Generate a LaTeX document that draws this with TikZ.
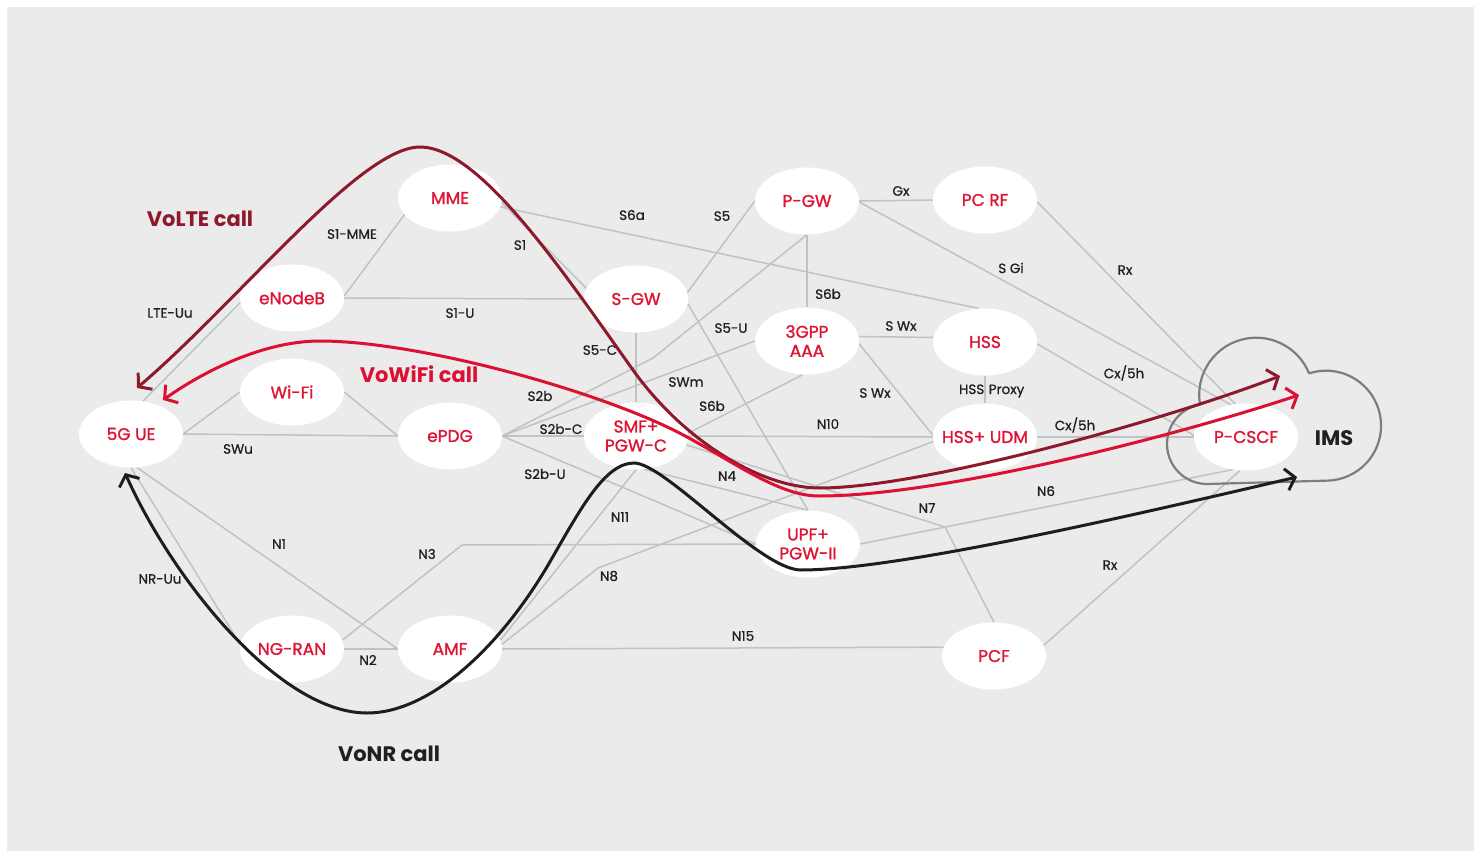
\documentclass[tikz,border=0pt]{standalone}
\usepackage{fontspec}
\setmainfont{Poppins}
\newfontfamily\nfmedium{Poppins}[FakeBold=1.3]
\newfontfamily\lblmedium{Poppins}[FakeBold=0.9]
\usetikzlibrary{shapes.geometric,arrows.meta,calc}
\pgfdeclarelayer{bg}
\pgfdeclarelayer{links}
\pgfsetlayers{bg,links,main}

\definecolor{canvas}{RGB}{235,235,235}
\definecolor{linkgray}{RGB}{188,196,196}
\definecolor{nfred}{RGB}{222,20,52}
\definecolor{voltecol}{RGB}{142,25,45}
\definecolor{vowificol}{RGB}{220,16,50}
\definecolor{vonrcol}{RGB}{30,28,28}
\definecolor{ink}{RGB}{35,31,32}
\definecolor{cloudgray}{RGB}{125,125,125}

\begin{document}
\begin{tikzpicture}[x=1pt,y=-1pt,
  nftext/.style={text=nfred, font=\nfmedium\fontsize{17}{19}\selectfont, align=center, inner sep=0pt},
  nf/.style={ellipse, fill=white, minimum width=104pt, minimum height=67pt, inner sep=0pt,
             label={[nftext]center:#1}},
  lbl/.style={text=ink, font=\lblmedium\fontsize{13.5}{15}\selectfont, inner sep=0pt},
  link/.style={draw=linkgray, line width=1.5pt},
  callpath/.style={line width=3pt, >={Straight Barb[length=9pt,width=22pt]}, <->},
  calltitle/.style={font=\fontsize{21}{24}\selectfont\bfseries, inner sep=0pt}]

\useasboundingbox (0,0) rectangle (1481,851);

% canvas
\begin{pgfonlayer}{bg}
  \fill[white] (0,0) rectangle (1481,851);
  \fill[canvas] (7,7) rectangle (1474,851);
\end{pgfonlayer}

% network functions
\node[nf={5G UE}]          (ue)    at (131,434) {};
\node[nf={eNodeB}]         (enb)   at (292,298) {};
\node[nf={Wi-Fi}]          (wifi)  at (292,392) {};
\node[nf={MME}]            (mme)   at (450,198) {};
\node[nf={ePDG}]           (epdg)  at (450,436) {};
\node[nf={S-GW}]           (sgw)   at (636,299) {};
\node[nf={SMF+\\PGW-C}]    (smf)   at (636,436) {};
\node[nf={P-GW}]           (pgw)   at (807,201) {};
\node[nf={3GPP\\AAA}]      (aaa)   at (807,341) {};
\node[nf={UPF+\\PGW-II}]   (upf)   at (808,544) {};
\node[nf={PC RF}]          (pcrf)  at (985,200) {};
\node[nf={HSS}]            (hss)   at (985,342) {};
\node[nf={HSS+ UDM}]       (udm)   at (985,437) {};
\node[nf={NG-RAN}]         (ngran) at (292,649) {};
\node[nf={AMF}]            (amf)   at (450,649) {};
\node[nf={PCF}]            (pcf)   at (994,656) {};
\node[nf={P-CSCF}]         (pcscf) at (1246,437) {};

% bends of the polyline interfaces
\coordinate (s2bk) at (653,358);
\coordinate (n7k)  at (945,527);
\coordinate (n8k)  at (598,568);
\coordinate (n3k)  at (462,545);

% reference points interfaces
\begin{pgfonlayer}{links}
  \draw[link] (ue.70) -- (enb.185);            % LTE-Uu
  \draw[link] (enb.2) -- (mme.200);            % S1-MME
  \draw[link] (enb.east) -- (sgw.west);        % S1-U
  \draw[link] (mme.-5) -- (sgw.168);           % S1
  \draw[link] (mme.-10) -- (hss.100);          % S6a
  \draw[link] (ue.east) -- (wifi.west);
  \draw[link] (ue.east) -- (epdg.west);        % SWu
  \draw[link] (wifi.east) -- (epdg.west);
  \draw[link] (epdg.east) -- (s2bk) -- (pgw.south); % S2b
  \draw[link] (epdg.east) -- (aaa.west);       % SWm
  \draw[link] (epdg.east) -- (smf.west);       % S2b-C
  \draw[link] (epdg.east) -- (upf.west);       % S2b-U
  \draw[link] (sgw.7) -- (pgw.west);           % S5
  \draw[link] (sgw.south) -- (smf.north);      % S5-C
  \draw[link] (sgw.-5) -- (upf.north);         % S5-U
  \draw[link] (pgw.south) -- (aaa.north);      % S6b
  \draw[link] (smf.3) -- (aaa.263);            % S6b
  \draw[link] (pgw.east) -- (pcrf.west);       % Gx
  \draw[link] (pgw.-1) -- (pcscf.115);         % SGi
  \draw[link] (pcrf.-2) -- (pcscf.108);        % Rx
  \draw[link] (aaa.5) -- (hss.175);            % SWx
  \draw[link] (aaa.-3) -- (udm.178);           % SWx
  \draw[link] (hss.south) -- (udm.north);      % HSS proxy
  \draw[link] (hss.-2) -- (pcscf.178);         % Cx/5h
  \draw[link] (udm.east) -- (pcscf.west);      % Cx/5h
  \draw[link] (smf.east) -- (udm.west);        % N10
  \draw[link] (smf.-76) -- (upf.north);        % N4
  \draw[link] (smf.-10) -- (n7k) -- (pcf.north); % N7
  \draw[link] (amf.10) -- (smf.south);         % N11
  \draw[link] (amf.5) -- (n8k) -- (udm.185);   % N8
  \draw[link] (ngran.10) -- (n3k) -- (upf.west); % N3
  \draw[link] (ngran.east) -- (amf.west);      % N2
  \draw[link] (ue.-80) -- (amf.180);           % N1
  \draw[link] (ue.south) -- (ngran.175);       % NR-Uu
  \draw[link] (amf.east) -- (pcf.170);         % N15
  \draw[link] (upf.east) -- (pcscf.248);       % N6
  \draw[link] (pcf.12) -- (pcscf.260);         % Rx

  % IMS cloud
  \draw[cloudgray, line width=2.2pt, line join=round]
    (1207,484) arc[start angle=90, end angle=260, radius=40]
               arc[start angle=170, end angle=338, radius=57]
               arc[start angle=252, end angle=450, radius=55]
    -- cycle;
\end{pgfonlayer}

% interface labels
\node[lbl] (l-s1mme) at (352,234) {S1-MME};
\node[lbl] (l-s1)    at (520,245) {S1};
\node[lbl] (l-s6a)   at (632,215) {S6a};
\node[lbl] (l-s5)    at (722,216) {S5};
\node[lbl] (l-gx)    at (901,191) {Gx};
\node[lbl] (l-lteuu) at (170,313) {LTE-Uu};
\node[lbl] (l-s1u)   at (460,313) {S1-U};
\node[lbl] (l-s5c)   at (600,350) {S5-C};
\node[lbl] (l-s6b)   at (828,294) {S6b};
\node[lbl] (l-swx)   at (901,326) {S Wx};
\node[lbl] (l-sgi)   at (1011,268) {S Gi};
\node[lbl] (l-rx)    at (1125,270) {Rx};
\node[lbl] (l-s2b)   at (540,396) {S2b};
\node[lbl] (l-swm)   at (686,382) {SWm};
\node[lbl] (l-s6bb)  at (712,406) {S6b};
\node[lbl] (l-s5u)   at (731,328) {S5-U};
\node[lbl] (l-swxb)  at (875,393) {S Wx};
\node[lbl, anchor=base] (l-proxy) at (986.5,394)
  {\makebox[0pt][r]{HSS\,}\makebox[0pt][l]{\,Proxy}};
\node[lbl] (l-cx)    at (1124,373) {Cx/5h};
\node[lbl] (l-cxb)   at (1075,425) {Cx/5h};
\node[lbl] (l-swu)   at (238,449) {SWu};
\node[lbl] (l-s2bc)  at (561,429) {S2b-C};
\node[lbl] (l-n10)   at (828,424) {N10};
\node[lbl] (l-s2bu)  at (545,474) {S2b-U};
\node[lbl] (l-n4)    at (727,476) {N4};
\node[lbl] (l-n6)    at (1046,491) {N6};
\node[lbl] (l-n7)    at (927,508) {N7};
\node[lbl] (l-n11)   at (620,517) {N11};
\node[lbl] (l-n1)    at (279,544) {N1};
\node[lbl] (l-n3)    at (427,554) {N3};
\node[lbl] (l-nruu)  at (160,579) {NR-Uu};
\node[lbl] (l-n8)    at (609,576) {N8};
\node[lbl] (l-rxb)   at (1110,565) {Rx};
\node[lbl] (l-n15)   at (743,636) {N15};
\node[lbl] (l-n2)    at (368,660) {N2};

% titles
\node[calltitle, text=voltecol]  (t-volte)  at (200,219) {VoLTE call};
\node[calltitle, text=vowificol] (t-vowifi) at (419,374) {VoWiFi call};
\node[calltitle, text=ink]       (t-vonr)   at (389,754) {VoNR call};
\node[calltitle, text=ink]       (ims)      at (1334,438) {IMS};

% call flows between the UE and the IMS
\coordinate (volteUE)  at (137,388);
\coordinate (volteTop) at (420,147);
\coordinate (volteMid) at (633,370);
\coordinate (volteLow) at (820,488);
\coordinate (volteIMS) at (1280,376);
\draw[callpath, voltecol] (volteUE) .. controls (240,300) and (360,147) .. (volteTop)
  .. controls (480,147) and (563,272) .. (volteMid)
  .. controls (683,440) and (760,488) .. (volteLow)
  .. controls (920,488) and (1160,422) .. (volteIMS);

\coordinate (wifiUE)  at (163,400);
\coordinate (wifiTop) at (320,341);
\coordinate (wifiMid) at (687,437);
\coordinate (wifiLow) at (819,496);
\coordinate (wifiIMS) at (1299,395);
\draw[callpath, vowificol] (wifiUE) .. controls (213,365) and (270,341) .. (wifiTop)
  .. controls (420,341) and (607,393) .. (wifiMid)
  .. controls (737,464) and (780,496) .. (wifiLow)
  .. controls (940,496) and (1169,438) .. (wifiIMS);

\coordinate (nrUE)   at (125,473);
\coordinate (nrLow)  at (367,713);
\coordinate (nrMid)  at (551,560);
\coordinate (nrTop)  at (634,463);
\coordinate (nrDip)  at (801,570);
\coordinate (nrIMS)  at (1297,477);
\draw[callpath, vonrcol] (nrUE) .. controls (174,582) and (280,713) .. (nrLow)
  .. controls (430,713) and (501,647) .. (nrMid)
  .. controls (581,508) and (605,463) .. (nrTop)
  .. controls (665,463) and (760,570) .. (nrDip)
  .. controls (900,570) and (1147,512) .. (nrIMS);

\end{tikzpicture}
\end{document}
